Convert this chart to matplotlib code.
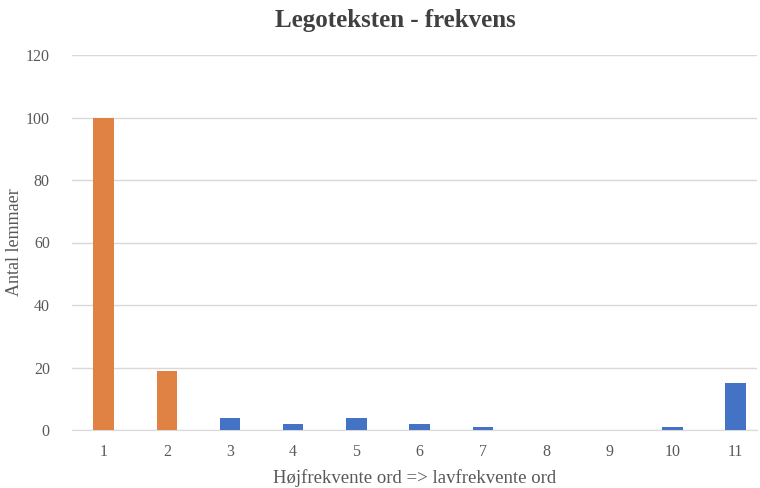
import matplotlib
matplotlib.use("Agg")
import matplotlib.pyplot as plt

categories = [1, 2, 3, 4, 5, 6, 7, 8, 9, 10, 11]
values = [100, 19, 4, 2, 4, 2, 1, 0, 0, 1, 15]
bar_colors = ["#DF8244"] * 2 + ["#4472C4"] * 9
yticks = [0, 20, 40, 60, 80, 100, 120]

plt.rcParams['font.family'] = ['Liberation Serif', 'DejaVu Serif']

fig = plt.figure(figsize=(7.6, 4.88), dpi=100)
ax = fig.add_axes([72/760, 58/488, 685/760, 375/488])

ax.bar(categories, values, width=0.32, color=bar_colors, zorder=3)
ax.set_xlim(0.5, 0.5 + 685/63.2)
ax.set_ylim(0, 120)
ax.set_yticks(yticks)
ax.set_xticks(categories)
ax.set_xticklabels([str(c) for c in categories])
ax.yaxis.grid(True, color="#D9D9D9", linewidth=1, zorder=0)
for s in ax.spines.values():
    s.set_visible(False)
ax.spines['bottom'].set_visible(True)
ax.spines['bottom'].set_color("#D9D9D9")
ax.tick_params(axis='both', length=0, labelsize=11.5, colors="#595959")
ax.tick_params(axis='y', pad=16)
ax.tick_params(axis='x', pad=10)

ax.set_ylabel("Antal lemmaer", fontsize=13, color="#595959")
ax.yaxis.set_label_coords(-0.071, 0.5)
ax.set_xlabel("Højfrekvente ord => lavfrekvente ord", fontsize=13.5, color="#595959", labelpad=7)
fig.text(395/760, 1 - 20/488, "Legoteksten - frekvens", ha='center', va='center',
         fontsize=18, fontweight='bold', color="#404040")

fig.savefig("out.png", dpi=100)
